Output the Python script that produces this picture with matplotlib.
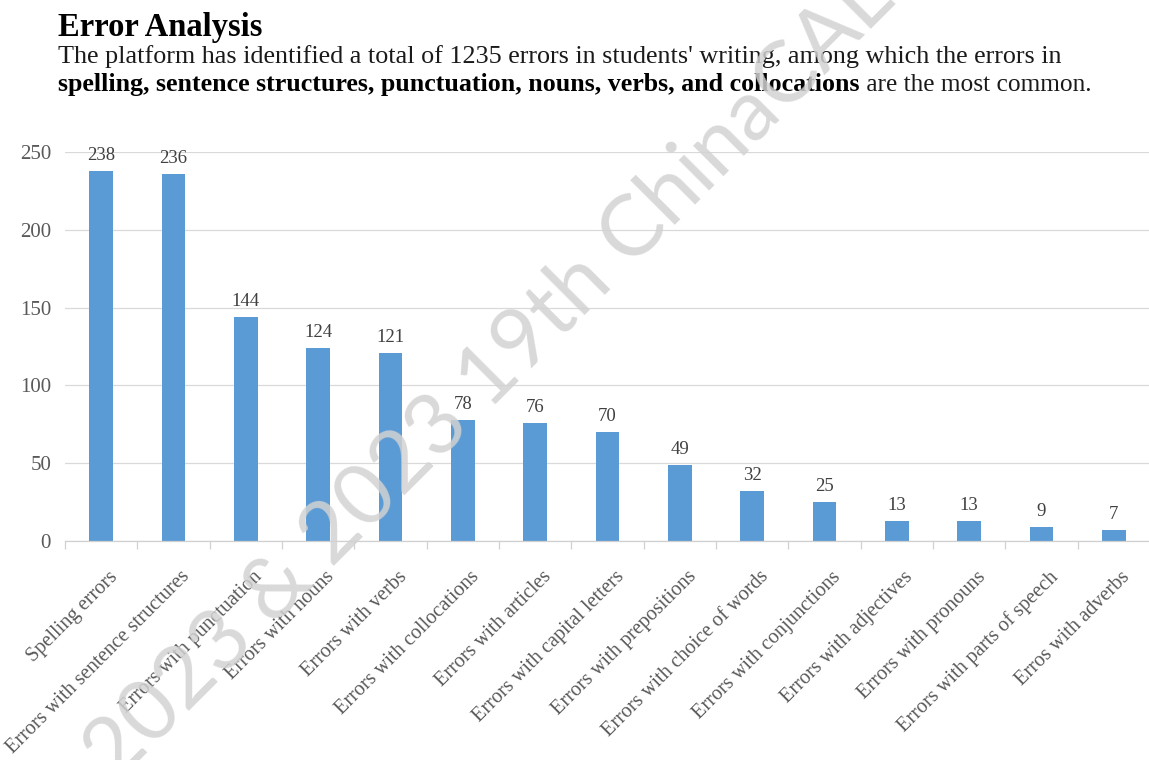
import matplotlib
matplotlib.use("Agg")
import matplotlib.pyplot as plt
import matplotlib.transforms as mtransforms
import numpy as np

# data
categories = ["Spelling errors", "Errors with sentence structures", "Errors with punctuation",
              "Errors with nouns", "Errors with verbs", "Errors with collocations",
              "Errors with articles", "Errors with capital letters", "Errors with prepositions",
              "Errors with choice of words", "Errors with conjunctions", "Errors with adjectives",
              "Errors with pronouns", "Errors with parts of speech", "Erros with adverbs"]
counts = [238, 236, 144, 124, 121, 78, 76, 70, 49, 32, 25, 13, 13, 9, 7]
y_ticks = [0, 50, 100, 150, 200, 250]

title = "Error Analysis"
subtitle_1 = "The platform has identified a total of 1235 errors in students' writing, among which the errors in"
subtitle_bold = "spelling, sentence structures, punctuation, nouns, verbs, and collocations"
subtitle_end = " are the most common."
watermark = "2023 & 2023 19th ChinaCALL"

plt.rcParams['font.family'] = ['Liberation Serif', 'DejaVu Serif']

fig = plt.figure(figsize=(11.49, 7.6), dpi=100)
ax = fig.add_axes([65 / 1149, 1 - 541 / 760, 1085 / 1149, 389 / 760])

x = np.arange(len(categories))
ax.bar(x, counts, width=0.33, color='#5b9bd5', zorder=2)

for xi, v in zip(x, counts):
    ax.annotate(str(v), (xi, v), xytext=(0, 5), textcoords='offset points',
                ha='center', va='bottom', fontsize=13.5, color='#404040', clip_on=False)

ax.set_xlim(-0.5, len(categories) - 0.5)
ax.set_ylim(0, 250)
ax.set_yticks(y_ticks)
ax.yaxis.grid(True, color='#d9d9d9', linewidth=0.9, zorder=0)
ax.tick_params(axis='y', length=0, labelsize=15, labelcolor='#595959', pad=10)

# category labels under the bars, tick marks between the bars
ax.set_xticks(x)
ax.set_xticklabels(categories, rotation=45, ha='right', va='top', rotation_mode='anchor',
                   fontsize=14.6, color='#595959')
ax.tick_params(axis='x', which='major', length=0, pad=19)
shift = mtransforms.ScaledTranslation(7 / 100, 0, fig.dpi_scale_trans)
for lab in ax.get_xticklabels():
    lab.set_transform(lab.get_transform() + shift)
ax.set_xticks(np.arange(-0.5, len(categories), 1.0), minor=True)
ax.tick_params(axis='x', which='minor', length=6, color='#d0d0d0', width=0.9)

for s in ['top', 'right', 'left']:
    ax.spines[s].set_visible(False)
ax.spines['bottom'].set_color('#d0d0d0')
ax.spines['bottom'].set_linewidth(0.9)

# heading text
fig.text(58 / 1149, 1 - 36 / 760, title, fontsize=23.5, fontweight='bold', color='black')
fig.text(58 / 1149, 1 - 63 / 760, subtitle_1, fontsize=18.8, color='#1a1a1a')
t_bold = fig.text(58 / 1149, 1 - 91 / 760, subtitle_bold, fontsize=18.7, fontweight='bold', color='black')
fig.canvas.draw()
bb = t_bold.get_window_extent(renderer=fig.canvas.get_renderer())
fig.text(bb.x1 / fig.bbox.width, 1 - 91 / 760, subtitle_end, fontsize=18.3, color='#1a1a1a')

# watermark over the chart
fig.text(505 / 1149, 1 - 360 / 760, watermark, fontsize=62, color='#d2d2d2', alpha=0.85,
         rotation=45, ha='center', va='center', family=['Lato', 'Liberation Sans'],
         zorder=10)

fig.savefig("out.png", dpi=100)
